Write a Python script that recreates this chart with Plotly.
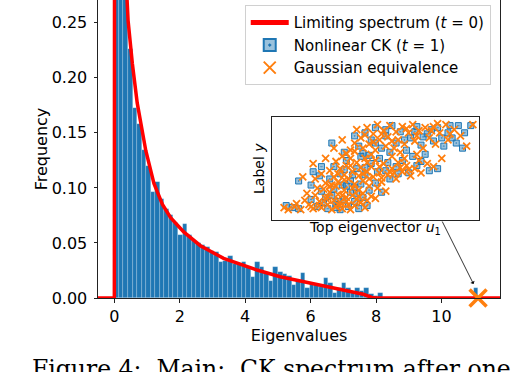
import plotly.graph_objects as go

# histogram of eigenvalues (density), 80 equal bins starting at 0
bin_start = 0.0
bin_width = 0.139
freq = [2.50, 1.40, 0.85, 0.226, 0.173, 0.158, 0.134, 0.120, 0.096, 0.105,
        0.090, 0.081, 0.075, 0.068, 0.057, 0.067, 0.057, 0.052, 0.050, 0.048,
        0.046, 0.043, 0.042, 0.033, 0.034, 0.038, 0.031, 0.031, 0.033, 0.028,
        0.019, 0.033, 0.028, 0.023, 0.015, 0.028, 0.024, 0.022, 0.020, 0.012,
        0.015, 0.023, 0.009, 0.0125, 0.0125, 0.0097, 0.0184, 0.0133, 0.0043, 0.0088,
        0.0133, 0.0088, 0.0057, 0.0088, 0.006, 0.0088, 0.004, 0.002, 0.0045, 0.0,
        0.0, 0.0, 0.0, 0.0, 0.0, 0.0, 0.0, 0.0, 0.0, 0.0,
        0.0, 0.0, 0.0, 0.0, 0.0, 0.0, 0.0, 0.0, 0.0, 0.0088]

# limiting spectrum (t=0)
curve_x = [-0.5, 0.0, 0.02, 0.2, 0.39, 0.42, 0.55, 0.70, 0.96, 1.21, 1.47, 1.72,
           2.12, 2.63, 3.34, 4.36, 5.07, 5.68, 6.70, 7.61, 7.87, 8.0, 11.8]
curve_y = [0.0, 0.0, 1.2, 0.42, 0.270, 0.252, 0.213, 0.177, 0.134, 0.104, 0.085, 0.073,
           0.060, 0.0475, 0.036, 0.0254, 0.0193, 0.0154, 0.0093, 0.0034, 0.0005, 0.0, 0.0]

# isolated top eigenvalue
outlier_x = [11.12]
outlier_y = [0.0]

# inset: top eigenvector u1 vs label y (normalised inset coordinates)
ck_u = [0.07, 0.10, 0.13, 0.19, 0.22, 0.25, 0.27, 0.29, 0.31, 0.33, 0.35, 0.37, 0.38, 0.40, 0.42,
        0.44, 0.46, 0.30, 0.34, 0.24, 0.20, 0.23, 0.28, 0.30, 0.33, 0.36, 0.38, 0.41, 0.43, 0.45,
        0.48, 0.50, 0.52, 0.55, 0.57, 0.60, 0.63, 0.66, 0.70, 0.47, 0.53, 0.40, 0.42, 0.45, 0.48,
        0.50, 0.53, 0.55, 0.58, 0.60, 0.62, 0.65, 0.67, 0.70, 0.72, 0.75, 0.78, 0.80, 0.83, 0.86,
        0.90, 0.87, 0.92, 0.96, 0.40, 0.44, 0.57, 0.68, 0.72, 0.76, 0.80, 0.74, 0.13, 0.19, 0.24,
        0.35, 0.29, 0.26, 0.32, 0.36, 0.39, 0.43, 0.47, 0.51, 0.56, 0.61, 0.64, 0.69, 0.73, 0.77,
        0.82, 0.85, 0.89, 0.93, 0.35, 0.45, 0.55, 0.31, 0.41, 0.50]
ck_v = [0.14, 0.12, 0.11, 0.20, 0.13, 0.17, 0.11, 0.24, 0.15, 0.10, 0.20, 0.13, 0.27, 0.18, 0.11,
        0.22, 0.14, 0.30, 0.34, 0.28, 0.47, 0.43, 0.40, 0.52, 0.45, 0.58, 0.38, 0.50, 0.62, 0.44,
        0.55, 0.36, 0.60, 0.48, 0.40, 0.52, 0.58, 0.46, 0.53, 0.29, 0.27, 0.32, 0.72, 0.85, 0.78,
        0.90, 0.70, 0.82, 0.92, 0.75, 0.86, 0.68, 0.80, 0.91, 0.73, 0.84, 0.77, 0.90, 0.72, 0.92,
        0.92, 0.80, 0.70, 0.92, 0.82, 0.65, 0.66, 0.62, 0.57, 0.48, 0.50, 0.64, 0.38, 0.34, 0.52,
        0.66, 0.75, 0.22, 0.18, 0.33, 0.44, 0.35, 0.63, 0.47, 0.56, 0.45, 0.78, 0.86, 0.81, 0.88,
        0.80, 0.85, 0.75, 0.85, 0.49, 0.51, 0.88, 0.12, 0.26, 0.75]

ge_u = [0.06, 0.08, 0.11, 0.14, 0.16, 0.18, 0.20, 0.21, 0.23, 0.24, 0.26, 0.27, 0.28, 0.29, 0.30,
        0.31, 0.32, 0.33, 0.34, 0.35, 0.36, 0.37, 0.38, 0.39, 0.40, 0.41, 0.43, 0.44, 0.46, 0.48,
        0.25, 0.31, 0.17, 0.22, 0.21, 0.24, 0.26, 0.28, 0.30, 0.31, 0.32, 0.33, 0.34, 0.35, 0.36,
        0.37, 0.38, 0.39, 0.40, 0.41, 0.42, 0.43, 0.44, 0.45, 0.46, 0.47, 0.48, 0.49, 0.50, 0.52,
        0.53, 0.54, 0.56, 0.58, 0.60, 0.61, 0.63, 0.65, 0.67, 0.69, 0.72, 0.75, 0.51, 0.55, 0.40,
        0.41, 0.43, 0.44, 0.46, 0.47, 0.49, 0.50, 0.51, 0.52, 0.54, 0.55, 0.56, 0.57, 0.59, 0.60,
        0.61, 0.63, 0.64, 0.66, 0.68, 0.69, 0.71, 0.73, 0.74, 0.76, 0.78, 0.79, 0.81, 0.84, 0.85,
        0.88, 0.91, 0.94, 0.97, 0.38, 0.48, 0.58, 0.62, 0.70, 0.15, 0.20, 0.26, 0.30, 0.34, 0.82,
        0.78, 0.23, 0.27, 0.33, 0.36, 0.42, 0.45, 0.50, 0.29, 0.35, 0.39, 0.44, 0.47, 0.53, 0.57,
        0.62, 0.66, 0.71, 0.45, 0.49, 0.53, 0.58, 0.65, 0.70, 0.77, 0.80, 0.86, 0.32, 0.38, 0.42,
        0.36, 0.40, 0.46, 0.52, 0.59, 0.64, 0.12, 0.19, 0.28, 0.34]
ge_v = [0.12, 0.10, 0.13, 0.10, 0.19, 0.15, 0.11, 0.24, 0.18, 0.12, 0.21, 0.15, 0.27, 0.10, 0.19,
        0.13, 0.25, 0.17, 0.11, 0.29, 0.22, 0.15, 0.10, 0.24, 0.14, 0.20, 0.17, 0.26, 0.19, 0.23,
        0.30, 0.33, 0.26, 0.31, 0.40, 0.45, 0.36, 0.48, 0.42, 0.57, 0.37, 0.50, 0.62, 0.44, 0.53,
        0.40, 0.60, 0.47, 0.35, 0.56, 0.43, 0.51, 0.38, 0.60, 0.47, 0.33, 0.52, 0.42, 0.58, 0.46,
        0.37, 0.55, 0.44, 0.50, 0.40, 0.56, 0.47, 0.53, 0.43, 0.50, 0.46, 0.55, 0.31, 0.28, 0.75,
        0.88, 0.80, 0.70, 0.90, 0.74, 0.84, 0.68, 0.93, 0.78, 0.87, 0.72, 0.81, 0.92, 0.70, 0.86,
        0.78, 0.91, 0.74, 0.85, 0.93, 0.77, 0.87, 0.70, 0.90, 0.80, 0.91, 0.74, 0.85, 0.93, 0.78,
        0.88, 0.82, 0.72, 0.93, 0.68, 0.64, 0.62, 0.66, 0.64, 0.42, 0.55, 0.60, 0.70, 0.78, 0.60,
        0.52, 0.14, 0.22, 0.14, 0.18, 0.23, 0.12, 0.21, 0.34, 0.39, 0.31, 0.45, 0.40, 0.41, 0.47,
        0.51, 0.49, 0.58, 0.83, 0.76, 0.84, 0.77, 0.89, 0.82, 0.87, 0.94, 0.84, 0.45, 0.53, 0.29,
        0.65, 0.67, 0.56, 0.52, 0.46, 0.60, 0.16, 0.13, 0.33, 0.24]

x_ticks = [0, 2, 4, 6, 8, 10]
y_ticks = [0.0, 0.05, 0.10, 0.15, 0.20, 0.25]

BLUE = '#1f77b4'
ORANGE = '#ff7f0e'
FONT = 'DejaVu Sans'

bin_centers = [bin_start + (i + 0.5) * bin_width for i in range(len(freq))]

fig = go.Figure()

fig.add_trace(go.Bar(x=bin_centers, y=freq, width=bin_width,
                     marker=dict(color=BLUE, line=dict(color='rgba(255,255,255,0.3)', width=0.6)),
                     showlegend=False, hoverinfo='skip'))

fig.add_trace(go.Scatter(x=curve_x, y=curve_y, mode='lines',
                         line=dict(color='red', width=3.5),
                         name='Limiting spectrum (<i>t</i> = 0)', legendrank=1,
                         cliponaxis=False))

fig.add_trace(go.Scatter(x=outlier_x, y=outlier_y, mode='markers',
                         marker=dict(symbol='x-thin', size=17,
                                     line=dict(color=ORANGE, width=3.5)),
                         showlegend=False, cliponaxis=False))

# inset scatter
fig.add_trace(go.Scatter(x=ck_u, y=ck_v, mode='markers', xaxis='x2', yaxis='y2',
                         marker=dict(symbol='square-dot', size=6, color='rgba(31,119,180,0.45)',
                                     line=dict(color=BLUE, width=1)),
                         name='Nonlinear CK (<i>t</i> = 1)', legendrank=2))
fig.add_trace(go.Scatter(x=ge_u, y=ge_v, mode='markers', xaxis='x2', yaxis='y2',
                         marker=dict(symbol='x-thin', size=7,
                                     line=dict(color=ORANGE, width=1.8)),
                         name='Gaussian equivalence', legendrank=3))

axis_common = dict(showline=True, mirror=True, linecolor='#222', linewidth=1,
                   showgrid=False, zeroline=False, automargin=False)

fig.update_layout(
    width=516, height=372,
    margin=dict(l=98, r=16, t=0, b=74),
    paper_bgcolor='white', plot_bgcolor='white',
    font=dict(family=FONT, color='black', size=16),
    bargap=0,
    xaxis=dict(range=[-0.5, 11.79], tickvals=x_ticks, ticks='outside', ticklen=3.5,
               tickcolor='#222', tickfont=dict(size=16),
               title=dict(text='Eigenvalues', font=dict(size=16), standoff=0),
               **axis_common),
    yaxis=dict(range=[0, 0.2707], tickvals=y_ticks, tickformat='.2f', ticks='outside',
               ticklen=3.5, tickcolor='#222', tickfont=dict(size=16), ticklabelstandoff=3,
               title=dict(text='Frequency', font=dict(size=16), standoff=0),
               **axis_common),
    xaxis2=dict(domain=[0.432, 0.948], anchor='y2', range=[0, 1],
                showticklabels=False, ticks='',
                title=dict(text='Top eigenvector <i>u</i><sub>1</sub>', font=dict(size=14), standoff=2),
                **axis_common),
    yaxis2=dict(domain=[0.262, 0.606], anchor='x2', range=[0, 1],
                showticklabels=False, ticks='',
                title=dict(text='Label <i>y</i>', font=dict(size=14), standoff=2),
                **axis_common),
    legend=dict(x=0.365, y=0.982, xanchor='left', yanchor='top',
                bgcolor='rgba(255,255,255,0.85)', bordercolor='#d0d0d0', borderwidth=1,
                font=dict(family=FONT, size=15), itemsizing='constant', itemwidth=38),
)

# arrow from the inset to the isolated eigenvalue
fig.add_annotation(x=10.98, y=0.0127, ax=-32, ay=-64, xref='x', yref='y',
                   showarrow=True, arrowhead=1, arrowsize=1, arrowwidth=0.8,
                   arrowcolor='black', text='')

# caption fragment below the figure
fig.add_annotation(x=-0.169, y=-0.184, xref='paper', yref='paper',
                   xanchor='left', yanchor='top', showarrow=False,
                   text='Figure 4:  Main:  CK spectrum after one',
                   font=dict(family='DejaVu Serif', size=23.5, color='black'))

fig.write_html("out.html", config={'displayModeBar': False},
               post_script="document.body.style.margin='0';")
